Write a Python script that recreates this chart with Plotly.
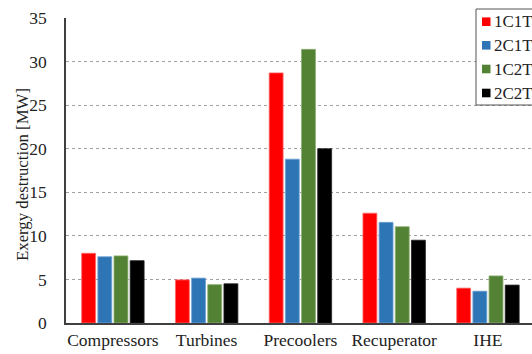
import plotly.graph_objects as go

categories = ["Compressors", "Turbines", "Precoolers", "Recuperator", "IHE"]
series_names = ["1C1T", "2C1T", "1C2T", "2C2T"]
v_1c1t = [8.0, 4.95, 28.7, 12.6, 4.0]
v_2c1t = [7.6, 5.15, 18.8, 11.55, 3.65]
v_1c2t = [7.7, 4.4, 31.4, 11.05, 5.4]
v_2c2t = [7.15, 4.5, 20.0, 9.5, 4.35]
colors = ["#FF0000", "#2E75B6", "#548235", "#000000"]
edge = ["#FF6A6A", "#6FA3D6", "#8AAE6E", "#202020"]

W, H = 532, 354
ML, MR, MT, MB = 66, 0, 18, 31
PW, PH = W - ML - MR, H - MT - MB


def px_x(px):
    return (px - ML) / PW


def px_y(py):
    return (H - MB - py) / PH


fig = go.Figure()
for name, vals, c, e in zip(series_names, [v_1c1t, v_2c1t, v_1c2t, v_2c2t], colors, edge):
    fig.add_trace(go.Bar(
        x=categories, y=vals, name=name,
        marker=dict(color=c, line=dict(color=e, width=0.8)),
    ))

font_family = "Liberation Serif, Times New Roman, serif"

# legend box drawn by hand: small square swatches with serif labels
shapes = [dict(
    type="rect", xref="paper", yref="paper",
    x0=px_x(476), x1=px_x(545), y0=px_y(105), y1=px_y(9),
    line=dict(color="#555555", width=1), fillcolor="white", layer="above",
)]
annotations = []
row_y = [21.7, 45.3, 69.0, 93.0]
for name, c, ry in zip(series_names, colors, row_y):
    shapes.append(dict(
        type="rect", xref="paper", yref="paper",
        x0=px_x(482), x1=px_x(490.5), y0=px_y(ry + 4.3), y1=px_y(ry - 4.3),
        line=dict(width=0), fillcolor=c, layer="above",
    ))
    annotations.append(dict(
        xref="paper", yref="paper", x=px_x(492), y=px_y(ry),
        xanchor="left", yanchor="middle", text=name, showarrow=False,
        font=dict(family=font_family, size=17, color="#222222"),
    ))

# y-axis title
annotations.append(dict(
    xref="paper", yref="paper", x=px_x(22), y=px_y(175),
    xanchor="center", yanchor="middle", textangle=-90,
    text="Exergy destruction [MW]", showarrow=False,
    font=dict(family=font_family, size=16.8, color="#222222"),
))

fig.update_layout(
    width=W, height=H,
    margin=dict(l=ML, r=MR, t=MT, b=MB, autoexpand=False),
    paper_bgcolor="white", plot_bgcolor="white",
    barmode="group", bargap=0.31, bargroupgap=0.14,
    font=dict(family=font_family, size=17, color="#222222"),
    showlegend=False,
    shapes=shapes, annotations=annotations,
    xaxis=dict(
        range=[-0.5, 4.47], showgrid=False, ticks="",
        showline=True, linecolor="#404040", linewidth=1.6,
        tickfont=dict(size=17.5), ticklabelstandoff=0, fixedrange=True,
    ),
    yaxis=dict(
        range=[0, 35], tick0=0, dtick=5,
        showgrid=True, gridcolor="#a0a0a0", griddash="dot", gridwidth=1,
        showline=True, linecolor="#404040", linewidth=1.6,
        ticks="", ticklen=0, tickfont=dict(size=17.5), ticklabelstandoff=14,
        zeroline=False,
    ),
)

fig.write_html("out.html")
